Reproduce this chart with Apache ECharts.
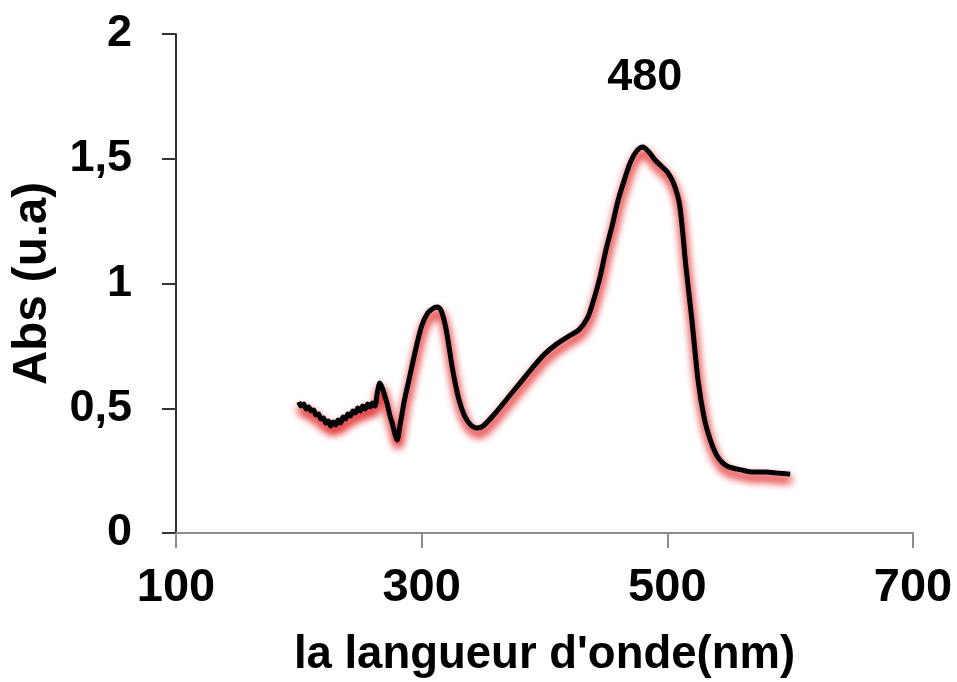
<!DOCTYPE html>
<html>
<head>
<meta charset="utf-8">
<script src="https://cdn.jsdelivr.net/npm/echarts@6/dist/echarts.min.js"></script>
<style>
  html, body { margin: 0; padding: 0; background: #fff; }
  #chart { width: 957px; height: 682px; }
</style>
</head>
<body>
<div id="chart"></div>
<script>
// UV-visible absorption spectrum
const wavelengths = [
  200, 202, 204, 206, 208, 210, 212, 214, 216, 218, 220, 222, 224, 226, 228, 230,
  232, 234, 236, 238, 240, 242, 244, 246, 248, 250, 252, 254, 256, 258, 260, 262,
  264, 266, 268, 270, 272, 274, 276, 278, 280, 282, 284, 286, 290, 295, 300, 305,
  310, 313, 316, 320, 325, 330, 335, 340, 345, 350, 360, 370, 380, 390, 400, 410,
  420, 428, 435, 440, 445, 450, 455, 460, 465, 470, 475, 480, 485, 490, 495, 500,
  505, 510, 515, 520, 525, 530, 535, 540, 545, 550, 560, 570, 580, 590, 600
];
const absorbance = [
  0.525, 0.509, 0.517, 0.497, 0.505, 0.489, 0.493, 0.473, 0.477, 0.457, 0.461, 0.441, 0.449, 0.429, 0.445, 0.433,
  0.453, 0.441, 0.465, 0.457, 0.477, 0.469, 0.489, 0.481, 0.501, 0.489, 0.509, 0.497, 0.517, 0.505, 0.521, 0.509,
  0.565, 0.601, 0.581, 0.549, 0.517, 0.473, 0.441, 0.401, 0.373, 0.421, 0.477, 0.533, 0.621, 0.733, 0.830, 0.882,
  0.902, 0.906, 0.890, 0.814, 0.661, 0.541, 0.469, 0.433, 0.421, 0.429, 0.481, 0.541, 0.601, 0.661, 0.717, 0.758,
  0.790, 0.814, 0.862, 0.934, 1.022, 1.134, 1.230, 1.335, 1.415, 1.487, 1.531, 1.547, 1.527, 1.495, 1.471, 1.447,
  1.403, 1.315, 1.074, 0.854, 0.613, 0.461, 0.373, 0.313, 0.281, 0.265, 0.253, 0.244, 0.244, 0.240, 0.236
];

// Annotated absorption maximum
const peakWavelength = 480;
const peakAbsorbance = 1.547;

// Axis ticks
const xTicks = [100, 300, 500, 700];
const yTicks = [0, 0.5, 1, 1.5, 2];
const yTickLabels = ['0', '0,5', '1', '1,5', '2'];

const xAxisTitle = "la langueur d'onde(nm)";
const yAxisTitle = 'Abs (u.a)';

const FONT = '"Liberation Sans", Arial, sans-serif';

const spectrum = wavelengths.map((w, i) => [w, absorbance[i]]);

// Soft red glow cast below the trace
const glow = {
  shadowColor: 'rgba(225, 30, 30, 1)',
  shadowBlur: 8,
  shadowOffsetX: 1,
  shadowOffsetY: 6
};

const chart = echarts.init(document.getElementById('chart'), null, { renderer: 'canvas' });

chart.setOption({
  animation: false,
  backgroundColor: '#ffffff',
  grid: { left: 176, right: 44, top: 34, bottom: 149, containLabel: false, outerBoundsMode: 'none' },
  xAxis: {
    type: 'value',
    min: xTicks[0],
    max: xTicks[xTicks.length - 1],
    interval: xTicks[1] - xTicks[0],
    name: xAxisTitle,
    nameLocation: 'middle',
    nameGap: 99,
    nameTextStyle: { fontFamily: FONT, fontWeight: 'bold', fontSize: 45.5, color: '#000' },
    axisLine: { show: true, onZero: false, lineStyle: { color: '#8c8c8c', width: 2 } },
    axisTick: { show: true, inside: false, length: 15, lineStyle: { color: '#8c8c8c', width: 2 } },
    axisLabel: { fontFamily: FONT, fontWeight: 'bold', fontSize: 47, color: '#000', margin: 32 },
    splitLine: { show: false }
  },
  yAxis: {
    type: 'value',
    min: yTicks[0],
    max: yTicks[yTicks.length - 1],
    interval: yTicks[1] - yTicks[0],
    name: yAxisTitle,
    nameLocation: 'middle',
    nameRotate: 90,
    nameGap: 119,
    nameTextStyle: { fontFamily: FONT, fontWeight: 'bold', fontSize: 47.5, color: '#000' },
    axisLine: { show: true, onZero: false, lineStyle: { color: '#333333', width: 2 } },
    axisTick: { show: true, inside: false, length: 14, lineStyle: { color: '#333333', width: 2 } },
    axisLabel: {
      fontFamily: FONT, fontWeight: 'bold', fontSize: 45, color: '#000', margin: 44,
      formatter: function (v) {
        const i = yTicks.indexOf(v);
        return i >= 0 ? yTickLabels[i] : '';
      }
    },
    splitLine: { show: false }
  },
  series: [
    {
      // underlay that deepens the red glow; its own stroke stays hidden under the trace
      type: 'line',
      data: spectrum,
      showSymbol: false,
      smooth: 0.3,
      silent: true,
      z: 1,
      lineStyle: Object.assign({ color: '#d42020', width: 3 }, glow)
    },
    {
      type: 'line',
      data: spectrum,
      showSymbol: false,
      smooth: 0.3,
      z: 2,
      lineStyle: Object.assign({ color: '#000000', width: 5 }, glow),
      markPoint: {
        symbol: 'circle',
        symbolSize: 0,
        itemStyle: { color: 'transparent' },
        label: {
          show: true,
          position: 'inside',
          offset: [2, -69],
          formatter: function (p) { return String(p.data.coord[0]); },
          fontFamily: FONT, fontWeight: 'bold', fontSize: 45, color: '#000'
        },
        data: [{ coord: [peakWavelength, peakAbsorbance] }]
      }
    }
  ]
});
</script>
</body>
</html>
